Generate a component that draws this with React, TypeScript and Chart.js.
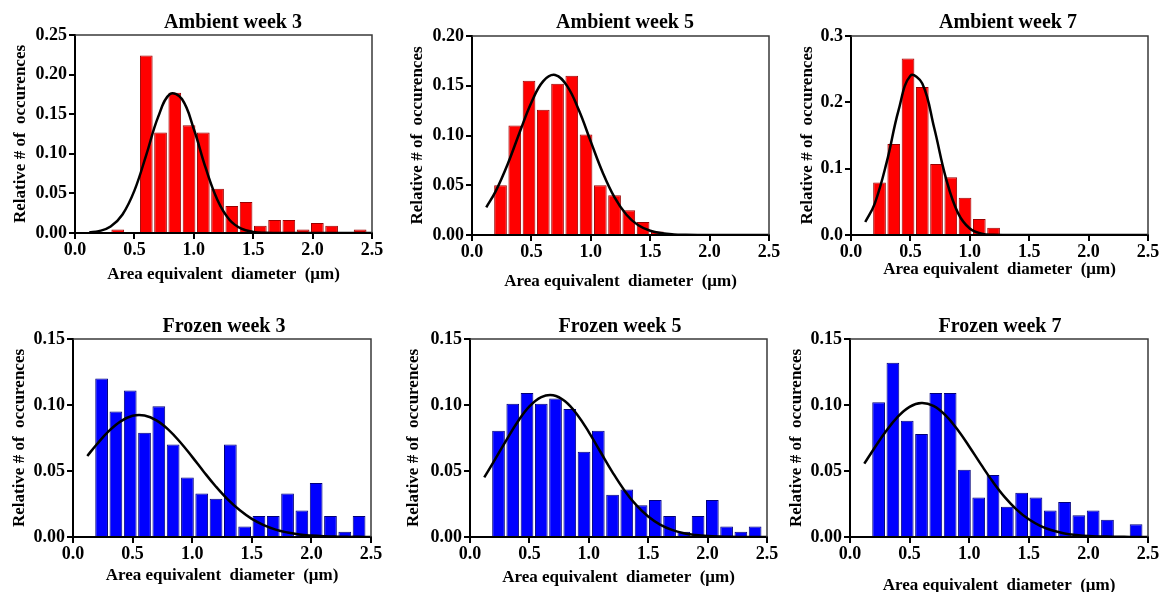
import React, { useEffect, useRef } from 'react';
import { Chart, registerables } from 'chart.js';

Chart.register(...registerables);

// ---------- data ----------
const binCenters = [0.24, 0.36, 0.48, 0.6, 0.72, 0.84, 0.96, 1.08, 1.2, 1.32, 1.44, 1.56, 1.68, 1.8, 1.92, 2.04, 2.16, 2.28, 2.4];
const curveX = [0.12, 0.2, 0.3, 0.4, 0.5, 0.6, 0.7, 0.8, 0.9, 1.0, 1.1, 1.2, 1.3, 1.4, 1.5, 1.6, 1.7, 1.8, 1.9, 2.0, 2.1, 2.2, 2.3, 2.4, 2.5];
const xTickValues = [0, 0.5, 1.0, 1.5, 2.0, 2.5];

const ambientWeek3 = [0, 0.0045, 0, 0.224, 0.127, 0.177, 0.136, 0.127, 0.056, 0.034, 0.039, 0.009, 0.0165, 0.0165, 0.0045, 0.0125, 0.009, 0, 0.0045];
const ambientWeek5 = [0.05, 0.11, 0.155, 0.126, 0.152, 0.16, 0.101, 0.05, 0.04, 0.025, 0.013, 0.0035, 0.001, 0.001, 0, 0, 0, 0, 0];
const ambientWeek7 = [0.079, 0.137, 0.266, 0.223, 0.107, 0.087, 0.056, 0.024, 0.011, 0.0015, 0, 0, 0, 0, 0, 0, 0, 0, 0];
const frozenWeek3 = [0.12, 0.095, 0.111, 0.079, 0.099, 0.07, 0.045, 0.033, 0.029, 0.07, 0.008, 0.016, 0.016, 0.033, 0.02, 0.041, 0.016, 0.004, 0.016];
const frozenWeek5 = [0.0805, 0.101, 0.109, 0.101, 0.105, 0.097, 0.0645, 0.0805, 0.032, 0.036, 0.024, 0.028, 0.016, 0.004, 0.016, 0.028, 0.008, 0.004, 0.008];
const frozenWeek7 = [0.102, 0.132, 0.088, 0.078, 0.109, 0.109, 0.051, 0.03, 0.047, 0.023, 0.0335, 0.03, 0.02, 0.0265, 0.0165, 0.02, 0.013, 0, 0.0096];

const ambientWeek3Fit = [0.0007, 0.0023, 0.0082, 0.0234, 0.0535, 0.0987, 0.1466, 0.1754, 0.1691, 0.1313, 0.0821, 0.0414, 0.0168, 0.0055, 0.0014, 0.0003, 0.0001, 0, 0, 0, 0, 0, 0, 0, 0];
const ambientWeek5Fit = [0.0278, 0.0441, 0.0711, 0.1028, 0.1332, 0.1546, 0.1608, 0.1499, 0.1253, 0.0938, 0.0629, 0.0378, 0.0204, 0.0098, 0.0043, 0.0017, 0.0006, 0.0002, 0, 0, 0, 0, 0, 0, 0];
const ambientWeek7Fit = [0.0196, 0.0474, 0.1094, 0.1879, 0.2401, 0.2283, 0.1616, 0.0851, 0.0334, 0.0097, 0.0021, 0.0003, 0, 0, 0, 0, 0, 0, 0, 0, 0, 0, 0, 0, 0];
const frozenWeek3Fit = [0.0614, 0.0703, 0.0802, 0.0876, 0.0918, 0.092, 0.0884, 0.0814, 0.0718, 0.0607, 0.0491, 0.0381, 0.0283, 0.0202, 0.0137, 0.009, 0.0056, 0.0034, 0.0019, 0.0011, 0.0006, 0.0003, 0.0001, 0.0001, 0];
const frozenWeek5Fit = [0.0452, 0.0571, 0.0725, 0.0871, 0.0989, 0.106, 0.1074, 0.1028, 0.093, 0.0795, 0.0642, 0.049, 0.0353, 0.0241, 0.0155, 0.0094, 0.0054, 0.0029, 0.0015, 0.0007, 0.0003, 0.0001, 0, 0, 0];
const frozenWeek7Fit = [0.0556, 0.0667, 0.0799, 0.091, 0.0986, 0.1015, 0.0993, 0.0923, 0.0816, 0.0686, 0.0548, 0.0416, 0.03, 0.0206, 0.0134, 0.0083, 0.0049, 0.0027, 0.0015, 0.0007, 0.0004, 0.0002, 0.0001, 0, 0];

const X_TITLE = 'Area equivalent  diameter  (\u03bcm)';
const Y_TITLE = 'Relative # of  occurences';
const FONT_FAMILY = '"Liberation Serif", "Times New Roman", serif';

type Panel = {
  title: string;
  bars: number[];
  fit: number[];
  fill: string;
  edge: string;
  yMax: number;
  yStep: number;
  yDecimals: number;
  area: { l: number; r: number; t: number; b: number };
  yTitleX: number;
  xTitleY: number;
  titleX: number;
  titleBase: number;
};

const RED = '#ff0000';
const RED_EDGE = '#9a0000';
const BLUE = '#0000ff';
const BLUE_EDGE = '#00007a';

const panels: Panel[] = [
  { title: 'Ambient week 3', bars: ambientWeek3, fit: ambientWeek3Fit, fill: RED, edge: RED_EDGE, yMax: 0.25, yStep: 0.05, yDecimals: 2,
    area: { l: 75, r: 372, t: 35, b: 233 }, yTitleX: 20, xTitleY: 275, titleX: 233, titleBase: 27.5 },
  { title: 'Ambient week 5', bars: ambientWeek5, fit: ambientWeek5Fit, fill: RED, edge: RED_EDGE, yMax: 0.2, yStep: 0.05, yDecimals: 2,
    area: { l: 472, r: 769, t: 36, b: 235 }, yTitleX: 417, xTitleY: 282, titleX: 625, titleBase: 28 },
  { title: 'Ambient week 7', bars: ambientWeek7, fit: ambientWeek7Fit, fill: RED, edge: RED_EDGE, yMax: 0.3, yStep: 0.1, yDecimals: 1,
    area: { l: 851, r: 1148, t: 36, b: 235 }, yTitleX: 807, xTitleY: 270, titleX: 1008, titleBase: 28 },
  { title: 'Frozen week 3', bars: frozenWeek3, fit: frozenWeek3Fit, fill: BLUE, edge: BLUE_EDGE, yMax: 0.15, yStep: 0.05, yDecimals: 2,
    area: { l: 73, r: 371, t: 339, b: 537 }, yTitleX: 19, xTitleY: 576, titleX: 224, titleBase: 331.5 },
  { title: 'Frozen week 5', bars: frozenWeek5, fit: frozenWeek5Fit, fill: BLUE, edge: BLUE_EDGE, yMax: 0.15, yStep: 0.05, yDecimals: 2,
    area: { l: 470, r: 767, t: 339, b: 537 }, yTitleX: 413, xTitleY: 578, titleX: 620, titleBase: 331.5 },
  { title: 'Frozen week 7', bars: frozenWeek7, fit: frozenWeek7Fit, fill: BLUE, edge: BLUE_EDGE, yMax: 0.15, yStep: 0.05, yDecimals: 2,
    area: { l: 850, r: 1148, t: 339, b: 537 }, yTitleX: 796, xTitleY: 586, titleX: 1000, titleBase: 331.5 },
];

function PanelChart({ p }: { p: Panel }) {
  const ref = useRef<HTMLCanvasElement | null>(null);
  const L = Math.round(p.yTitleX - 10);
  const T = Math.round(p.area.t - 40);
  const W = Math.round(p.area.r + 14 - L);
  const H = Math.round(p.xTitleY + 10 - T);
  const yw = p.area.l - L;
  const pt = p.area.t - T;
  const pr = L + W - p.area.r;
  const xh = T + H - p.area.b;

  useEffect(() => {
    if (!ref.current) return;
    const tickFont = { family: FONT_FAMILY, size: 18, weight: 'bold' as const };
    const axisTitleFont = { family: FONT_FAMILY, size: 17, weight: 'bold' as const };
    const grid = { display: true, drawOnChartArea: false, drawTicks: true, tickLength: 6, color: '#000', lineWidth: 2 };
    const border = { display: true, color: '#000', width: 2 };

    const framePlugin = {
      id: 'frameAndTitle',
      afterDatasetsDraw(chart: any) {
        const { ctx, chartArea } = chart;
        ctx.save();
        ctx.strokeStyle = '#3a3a3a';
        ctx.lineWidth = 1.5;
        ctx.beginPath();
        ctx.moveTo(chartArea.left, chartArea.top);
        ctx.lineTo(chartArea.right, chartArea.top);
        ctx.lineTo(chartArea.right, chartArea.bottom);
        ctx.stroke();
        ctx.restore();
      },
      afterDraw(chart: any) {
        const { ctx } = chart;
        ctx.save();
        ctx.font = 'bold 20px ' + FONT_FAMILY;
        ctx.fillStyle = '#000';
        ctx.textAlign = 'center';
        ctx.textBaseline = 'alphabetic';
        ctx.fillText(p.title, p.titleX - L, p.titleBase - T);
        ctx.restore();
      },
    };

    const chart = new Chart(ref.current, {
      type: 'bar',
      data: {
        datasets: [
          {
            type: 'line',
            data: curveX.map((x, i) => ({ x, y: p.fit[i] })),
            borderColor: '#000',
            borderWidth: 2.5,
            pointRadius: 0,
            tension: 0.4,
            fill: false,
            order: 0,
          } as any,
          {
            type: 'bar',
            data: binCenters.map((x, i) => ({ x, y: p.bars[i] })),
            backgroundColor: p.fill,
            borderColor: p.edge,
            borderWidth: 1,
            barPercentage: 0.89,
            categoryPercentage: 1,
            order: 1,
          } as any,
        ],
      },
      options: {
        animation: false,
        responsive: false,
        devicePixelRatio: 1,
        events: [],
        layout: { autoPadding: false, padding: { left: 0, right: pr, top: pt, bottom: 0 } },
        plugins: { legend: { display: false }, tooltip: { enabled: false }, title: { display: false } },
        scales: {
          x: {
            type: 'linear',
            min: 0,
            max: 2.5,
            offset: false,
            afterBuildTicks: (axis: any) => {
              axis.ticks = xTickValues.map((v) => ({ value: v }));
            },
            afterFit: (s: any) => {
              s.height = xh;
            },
            ticks: {
              callback: (v: any) => Number(v).toFixed(1),
              font: tickFont,
              color: '#000',
              padding: 1,
              maxRotation: 0,
              autoSkip: false,
            },
            grid: { ...grid, offset: false },
            border,
            title: { display: true, text: X_TITLE, font: axisTitleFont, color: '#000', padding: 0 },
          },
          y: {
            type: 'linear',
            min: 0,
            max: p.yMax,
            afterFit: (s: any) => {
              s.width = yw;
            },
            ticks: {
              stepSize: p.yStep,
              callback: (v: any) => Number(v).toFixed(p.yDecimals),
              font: tickFont,
              color: '#000',
              padding: 2,
            },
            grid,
            border,
            title: { display: true, text: Y_TITLE, font: axisTitleFont, color: '#000', padding: 0 },
          },
        },
      } as any,
      plugins: [framePlugin],
    });
    return () => chart.destroy();
  }, []);

  return (
    <canvas
      ref={ref}
      width={W}
      height={H}
      style={{ position: 'absolute', left: L, top: T, width: W, height: H }}
    />
  );
}

export default function App() {
  return (
    <div
      style={{
        position: 'fixed',
        left: 0,
        top: 0,
        width: 1163,
        height: 592,
        overflow: 'hidden',
        background: '#fff',
      }}
    >
      {panels.map((p) => (
        <PanelChart key={p.title} p={p} />
      ))}
    </div>
  );
}
